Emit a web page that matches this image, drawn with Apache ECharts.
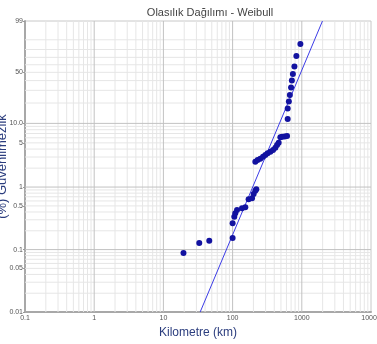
<!DOCTYPE html>
<html><head><meta charset="utf-8">
<script src="https://cdn.jsdelivr.net/npm/echarts@6/dist/echarts.min.js"></script>
<style>html,body{margin:0;padding:0;background:#fff}#c{width:377px;height:344px}</style>
</head><body><div id="c"></div>
<script>
const kmValues = [19.5, 33, 46, 100, 100, 105.8, 109.4, 115.8, 136.8, 152.6, 170.4, 190.9, 201.4, 213.1, 220.3, 213.1, 230, 251.7, 275.4, 297.3, 321, 351.3, 384.3, 415, 439, 463, 490, 519, 565, 612, 625, 625, 650, 672, 700, 719, 743, 782, 835, 954];
const pctValues = [0.088, 0.127, 0.139, 0.153, 0.263, 0.336, 0.380, 0.43, 0.458, 0.475, 0.638, 0.661, 0.774, 0.874, 0.92, 2.53, 2.69, 2.82, 3.03, 3.22, 3.43, 3.64, 3.87, 4.20, 4.63, 5.03, 6.11, 6.24, 6.28, 6.39, 11.6, 16.7, 21.0, 25.9, 32.7, 40.1, 47.9, 57.6, 71.8, 86.1];
const fitKm = [34, 1990];
const fitPct = [0.01, 99];
const yTickPct = [0.01, 0.05, 0.1, 0.5, 1, 5, 10, 50, 99];
const yTickLabels = ['0.01', '0.05', '0.1', '0.5', '1', '5', '10.0', '50', '99'];
const yMajorGridPct = [0.1, 1, 10];
const yMinorGridPct = [0.02,0.03,0.04,0.05,0.06,0.07,0.08,0.09,0.2,0.3,0.4,0.5,0.6,0.7,0.8,0.9,2,3,4,5,6,7,8,9,20,30,40,50,60,70,80,90];
const xTicks = [0.1, 1, 10, 100, 1000, 10000];
const xTickLabels = ['0.1', '1', '10', '100', '1000', '10000'];
const xMinorMult = [2,3,4,5,6,7,8,9];

const wb = p => Math.log(-Math.log(1 - p / 100));
const yMin = wb(yTickPct[0]), yMax = wb(yTickPct[yTickPct.length - 1]);
const xMin = xTicks[0], xMax = xTicks[xTicks.length - 1];
const xMinorGrid = [];
for (let i = 0; i < xTicks.length - 1; i++) xMinorMult.forEach(m => xMinorGrid.push(xTicks[i] * m));

function gridSegs(xs, ps) {
  const d = [];
  xs.forEach(x => { d.push([x, yMin], [x, yMax], [x, '-']); });
  ps.forEach(p => { const y = wb(p); d.push([xMin, y], [xMax, y], ['-', '-']); });
  return d;
}

const chart = echarts.init(document.getElementById('c'), null, {renderer: 'canvas'});
const lab = {color: '#555', fontSize: 7, fontFamily: 'Liberation Sans'};
chart.setOption({
  animation: false,
  title: {text: 'Olasılık Dağılımı - Weibull', left: 205, top: 2, textAlign: 'center',
    textStyle: {fontSize: 11, fontWeight: 'normal', color: '#444', fontFamily: 'Liberation Sans'}},
  grid: {left: 25, right: 6, top: 21, bottom: 32, show: true, borderColor: '#c8c8c8', borderWidth: 1,
    containLabel: false, outerBoundsMode: 'none'},
  xAxis: {type: 'log', logBase: 10, min: xMin, max: xMax,
    name: 'Kilometre (km)', nameLocation: 'middle', nameGap: 13,
    nameTextStyle: {fontSize: 12, color: '#2b3d7e', fontFamily: 'Liberation Sans'},
    axisLine: {onZero: false, lineStyle: {color: '#a8a8a8', width: 2}},
    axisTick: {show: false},
    splitLine: {show: false},
    axisLabel: Object.assign({margin: 3, formatter: v => {
      let best = 0; xTicks.forEach((t, i) => { if (Math.abs(Math.log10(t) - Math.log10(v)) < Math.abs(Math.log10(xTicks[best]) - Math.log10(v))) best = i; });
      return xTickLabels[best]; }}, lab)},
  yAxis: {type: 'value', min: yMin, max: yMax,
    name: '(%) Güvenilmezlik', nameLocation: 'middle', nameGap: 16, nameRotate: 90, nameMoveOverlap: false,
    nameTextStyle: {fontSize: 13, color: '#2b3d7e', fontFamily: 'Liberation Sans'},
    axisLine: {show: true, onZero: false, lineStyle: {color: '#a8a8a8', width: 2}},
    axisTick: {show: true, length: 2, customValues: yTickPct.map(wb), lineStyle: {color: '#999'}},
    splitLine: {show: false},
    axisLabel: Object.assign({margin: 2, customValues: yTickPct.map(wb), formatter: v => {
      let best = 0; yTickPct.forEach((t, i) => { if (Math.abs(wb(t) - v) < Math.abs(wb(yTickPct[best]) - v)) best = i; });
      return yTickLabels[best]; }}, lab)},
  series: [
    {type: 'line', z: 0, silent: true, symbol: 'none', connectNulls: false,
      lineStyle: {color: '#e6e6e6', width: 1}, data: gridSegs(xMinorGrid, yMinorGridPct)},
    {type: 'line', z: 1, silent: true, symbol: 'none', connectNulls: false,
      lineStyle: {color: '#c2c2c2', width: 1}, data: gridSegs(xTicks.slice(1, -1), yMajorGridPct)},
    {type: 'line', z: 3, symbol: 'none', silent: true,
      lineStyle: {color: '#3c3ce6', width: 1},
      data: fitKm.map((k, i) => [k, wb(fitPct[i])])},
    {type: 'scatter', z: 4, symbolSize: 6, itemStyle: {color: '#1212a0', opacity: 1},
      data: kmValues.map((k, i) => [k, wb(pctValues[i])])}
  ]
});
</script></body></html>
